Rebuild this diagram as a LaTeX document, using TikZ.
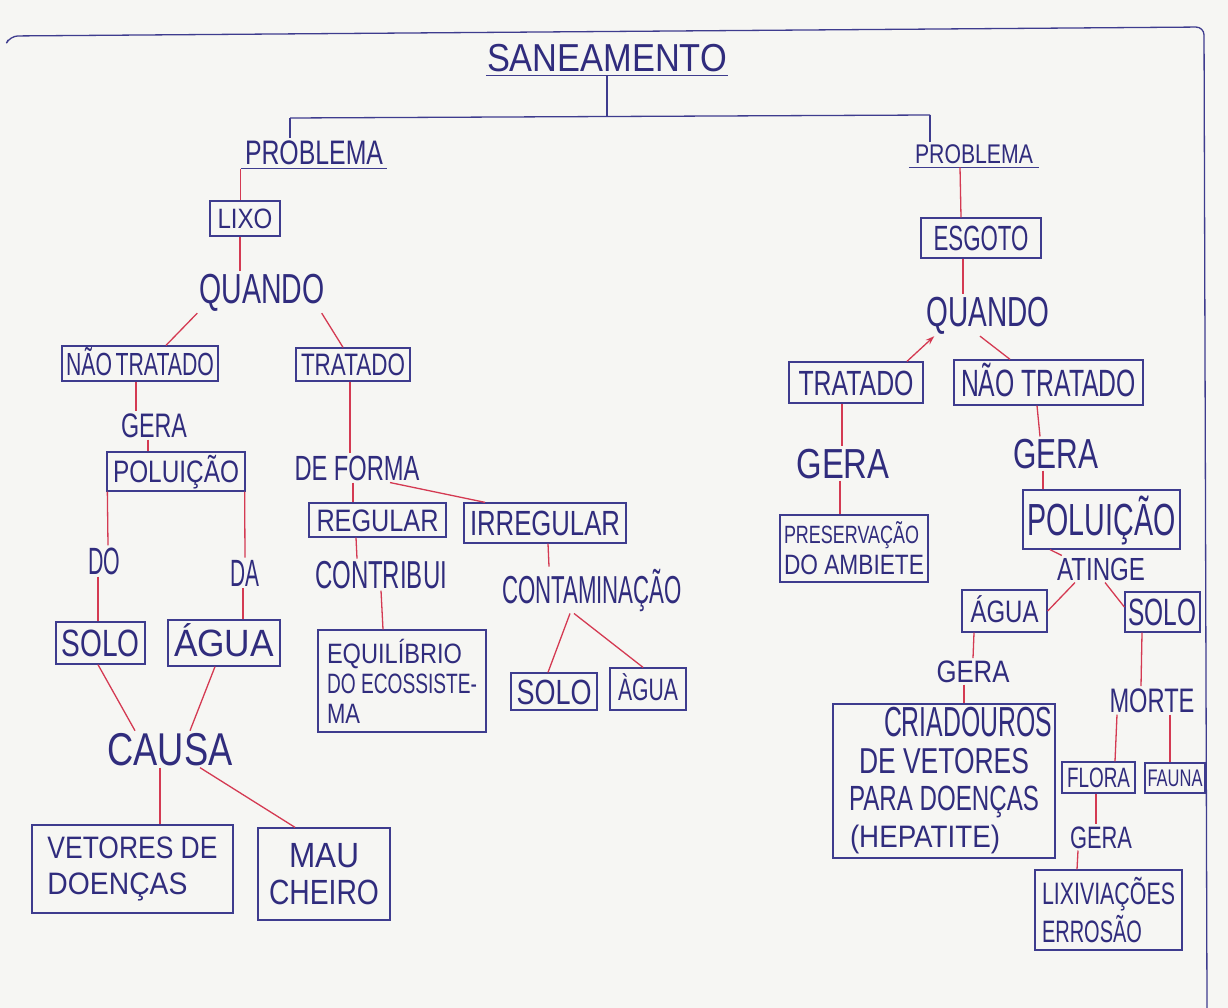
\documentclass[tikz,border=0pt]{standalone}
\usepackage{fontspec}
\usepackage{graphicx}
\setmainfont{Liberation Sans}
\usetikzlibrary{arrows.meta}
\definecolor{ink}{RGB}{48,44,125}
\definecolor{boxc}{RGB}{62,60,142}
\definecolor{redl}{RGB}{212,58,82}
\definecolor{paper}{RGB}{246,246,243}
\newcommand\hw[3]{\resizebox{#1pt}{\height}{\fontsize{#2pt}{#2pt}\selectfont #3}}
\begin{document}
\begin{tikzpicture}[x=1pt,y=-1pt,
  lbl/.style={anchor=base, inner sep=2pt, text=ink},
  box/.style={draw=boxc, line width=1.3pt, inner sep=0pt, text=ink},
  bx/.style n args={2}{box, minimum width=#1pt, minimum height=#2pt},
  capht/.style={text height=#1pt, text depth=0pt},
  link/.style={draw=redl, line width=1.3pt},
  bline/.style={draw=boxc, line width=1.3pt}]
\fill[paper] (0,0) rectangle (1228,1008);
\useasboundingbox (0,0) rectangle (1228,1008);
% frame
\draw[bline, rounded corners=8pt] (8,40) -- (10,36) -- (1204,27) -- (1207,1008);

% ---------- top ----------
\node[lbl, inner xsep=1pt, inner ysep=3pt] (sanea) at (607,72) {\hw{240}{39}{SANEAMENTO}};
\draw[bline] (sanea.south west) -- (sanea.south east);
\node[lbl, inner xsep=4pt, inner ysep=3pt] (probL) at (314,165) {\hw{138}{34}{PROBLEMA}};
\draw[bline] (probL.south west) -- (probL.south east);
\node[lbl, inner xsep=6pt, inner ysep=3pt] (probR) at (974,164) {\hw{118}{27}{PROBLEMA}};
\draw[bline] (probR.south west) -- (probR.south east);
\coordinate (bar) at (607,116);
\coordinate (barL) at (290,118);
\coordinate (barR) at (930,115);
\draw[bline] (sanea.south) -- (bar);
\draw[bline] (barL) -- (barR);
\draw[bline] (barL) -- (barL |- probL.north);
\draw[bline] (barR) -- (barR |- probR.north);

% ---------- left: LIXO ----------
\node[bx={70}{35}, capht=20] (lixo) at (245,218.5) {\hw{55}{28}{LIXO}};
\node[lbl] (qL) at (262,303) {\hw{125}{42}{QUANDO}};
\node[bx={156}{35}, capht=23] (ntL) at (140,363.5) {\hw{148}{32}{NÃO\,TRATADO}};
\node[bx={114}{33}, capht=22] (trL) at (353,364.5) {\hw{104}{31}{TRATADO}};
\node[lbl] (geraL) at (154,437) {\hw{66}{34}{GERA}};
\node[bx={138}{39}, capht=22] (polL) at (176,471.5) {\hw{126}{31}{POLUIÇÃO}};
\node[lbl] (do) at (104,574) {\hw{32}{38}{DO}};
\node[lbl] (da) at (245,586) {\hw{29}{38}{DA}};
\node[bx={89}{42}, capht=27] (soloL) at (100.5,643) {\hw{78}{38}{SOLO}};
\node[bx={112}{46}, capht=27] (aguaL) at (224,643) {\hw{100}{38}{ÁGUA}};
\node[lbl] (causa) at (170,765) {\hw{125}{46}{CAUSA}};
\node[bx={201}{88}, align=left, font=\fontsize{20pt}{36pt}\selectfont] (vet) at (132.5,869)
  {\hw{170}{31}{VETORES DE}\\\hw{140}{31}{DOENÇAS}};
\node[bx={132}{92}, align=center, font=\fontsize{20pt}{37pt}\selectfont] (mau) at (324,874)
  {\hw{70}{35}{MAU}\\\hw{110}{35}{CHEIRO}};

% ---------- middle ----------
\node[lbl] (def) at (357,480) {\hw{125}{35}{DE FORMA}};
\node[bx={137}{34}, capht=22] (reg) at (377.5,520) {\hw{122}{31}{REGULAR}};
\node[bx={162}{40}, capht=25] (irr) at (545,523) {\hw{150}{35}{IRREGULAR}};
\node[lbl] (contrib) at (381,588) {\hw{132}{39}{CONTRIBUI}};
\node[bx={168}{102}, align=left, font=\fontsize{20pt}{30pt}\selectfont] (equil) at (402,681)
  {\hw{135}{28}{EQUILÍBRIO}\\\hw{150}{28}{DO ECOSSISTE-}\\\hw{33}{28}{MA}};
\node[lbl] (contam) at (592,603) {\hw{180}{39}{CONTAMINAÇÃO}};
\node[bx={86}{37}, capht=25] (soloM) at (554,691.5) {\hw{75}{35}{SOLO}};
\node[bx={76}{42}, capht=22] (aguaM) at (648,689) {\hw{60}{31}{ÀGUA}};

% ---------- right: ESGOTO ----------
\node[bx={120}{40}, capht=25] (esgoto) at (981,238) {\hw{95}{35}{ESGOTO}};
\node[lbl] (qR) at (988,326) {\hw{123}{42}{QUANDO}};
\node[bx={134}{41}, capht=25] (trR) at (856,382.5) {\hw{115}{35}{TRATADO}};
\node[bx={189}{45}, capht=27] (ntR) at (1048.5,382.5) {\hw{175}{38}{NÃO TRATADO}};
\node[lbl] (geraRL) at (843,478) {\hw{93}{42}{GERA}};
\node[bx={148}{67}, align=left, font=\fontsize{20pt}{31pt}\selectfont] (pres) at (854,548.5)
  {\hw{135}{25}{PRESERVAÇÃO}\\\hw{140}{28}{DO AMBIETE}};
\node[lbl] (geraR) at (1056,468) {\hw{85}{42}{GERA}};
\node[bx={157}{59}, capht=32] (polR) at (1101.5,519.5) {\hw{148}{45}{POLUIÇÃO}};
\node[lbl] (atinge) at (1101,580) {\hw{88}{32}{ATINGE}};
\node[bx={85}{42}, capht=22] (aguaR) at (1004.5,611) {\hw{68}{31}{ÁGUA}};
\node[bx={75}{40}, capht=27] (soloR) at (1162.5,612) {\hw{68}{38}{SOLO}};
\node[lbl] (geraA) at (973,682) {\hw{73}{31}{GERA}};
\node[bx={222}{154}, align=center, font=\fontsize{20pt}{37pt}\selectfont] (criad) at (944,781)
  {\hspace*{48pt}\hw{168}{42}{CRIADOUROS}\\\hw{170}{36}{DE VETORES}\\\hw{190}{35}{PARA DOENÇAS}\\\hw{150}{31}{(HEPATITE)}\hspace*{38pt}};
\node[lbl] (morte) at (1152,712) {\hw{85}{34}{MORTE}};
\node[bx={73}{31}, capht=20] (flora) at (1098.5,777.5) {\hw{63}{28}{FLORA}};
\node[bx={60}{30}, capht=17] (fauna) at (1175,778) {\hw{55}{24}{FAUNA}};
\node[lbl] (geraF) at (1101,848) {\hw{62}{31}{GERA}};
\node[bx={147}{80}, align=left, font=\fontsize{20pt}{38pt}\selectfont] (lix) at (1108.5,910)
  {\hw{133}{31}{LIXIVIAÇÕES}\\\hw{100}{31}{ERROSÃO}};

% ---------- connectors (red) ----------
\draw[link] (probL.south west) -- (probL.south west |- lixo.north);
\draw[link] ([xshift=-14pt]probR.south) -- ([xshift=-20pt]esgoto.north);
\draw[link] ([xshift=-5pt]lixo.south) -- ([xshift=-22pt]qL.north);
\draw[link] (qL.south west) -- ([xshift=26pt]ntL.north);
\draw[link] ([xshift=-5pt]qL.south east) -- ([xshift=-10pt]trL.north);
\draw[link] ([xshift=-4pt]ntL.south) -- ([xshift=-18pt]geraL.north);
\draw[link] ([xshift=-6pt]geraL.south) -- ([xshift=-28pt]polL.north);
\draw[link] ([xshift=1pt]polL.south west) -- ([xshift=4pt]do.north);
\draw[link] ([xshift=-6pt]do.south) -- ([xshift=-2.5pt]soloL.north);
\draw[link] ([xshift=-1pt]polL.south east) -- (da.north);
\draw[link] ([xshift=-2pt]da.south) -- ([xshift=19pt]aguaL.north);
\draw[link] ([xshift=-2.5pt]soloL.south) -- ([xshift=-35pt]causa.north);
\draw[link] ([xshift=-9pt]aguaL.south) -- ([xshift=20pt]causa.north);
\draw[link] ([xshift=-10pt]causa.south) -- ([xshift=27.5pt]vet.north);
\draw[link] ([xshift=30pt]causa.south) -- ([xshift=-29pt]mau.north);

\draw[link] ([xshift=-3pt]trL.south) -- ([xshift=-7pt]def.north);
\draw[link] ([xshift=-4pt]def.south) -- ([xshift=-24.5pt]reg.north);
\draw[link] ([xshift=33pt]def.south) -- ([xshift=-60pt]irr.north);
\draw[link] ([xshift=-21.5pt]reg.south) -- ([xshift=-24pt]contrib.north);
\draw[link] (contrib.south) -- ([xshift=-19pt]equil.north);
\draw[link] ([xshift=3pt]irr.south) -- ([xshift=-43pt]contam.north);
\draw[link] ([xshift=-22pt]contam.south) -- ([xshift=-6pt]soloM.north);
\draw[link] ([xshift=-18pt]contam.south) -- ([xshift=-5pt]aguaM.north);

\draw[link] ([xshift=-18pt]esgoto.south) -- ([xshift=-25pt]qR.north);
\draw[link, -{Stealth[length=9pt,width=6pt]}] ([xshift=51pt]trR.north) -- ([xshift=10pt]qR.south west);
\draw[link] ([xshift=-8pt]qR.south) -- ([xshift=-38.5pt]ntR.north);
\draw[link] ([xshift=-14pt]trR.south) -- ([xshift=-1pt]geraRL.north);
\draw[link] ([xshift=-3pt]geraRL.south) -- ([xshift=-14pt]pres.north);
\draw[link] ([xshift=-11.5pt]ntR.south) -- ([xshift=-16pt]geraR.north);
\draw[link] ([xshift=-13pt]geraR.south) -- ([xshift=-58.5pt]polR.north);
\draw[link] ([xshift=-51.5pt]polR.south) -- ([xshift=7pt]atinge.north west);
\draw[link] ([xshift=-26pt]atinge.south) -- (aguaR.east);
\draw[link] ([xshift=4pt]atinge.south) -- ([yshift=5pt]soloR.west);
\draw[link] ([xshift=-30.5pt]aguaR.south) -- (geraA.north);
\draw[link] ([xshift=-9pt]geraA.south) -- ([xshift=20pt]criad.north);
\draw[link] ([xshift=-20.5pt]soloR.south) -- ([xshift=-11pt]morte.north);
\draw[link] ([xshift=-35pt]morte.south) -- ([xshift=16.5pt]flora.north);
\draw[link] ([xshift=18pt]morte.south) -- ([xshift=-5pt]fauna.north);
\draw[link] ([xshift=-2.5pt]flora.south) -- ([xshift=-5pt]geraF.north);
\draw[link] ([xshift=-23pt]geraF.south) -- ([xshift=-31.5pt]lix.north);
\end{tikzpicture}
\end{document}
